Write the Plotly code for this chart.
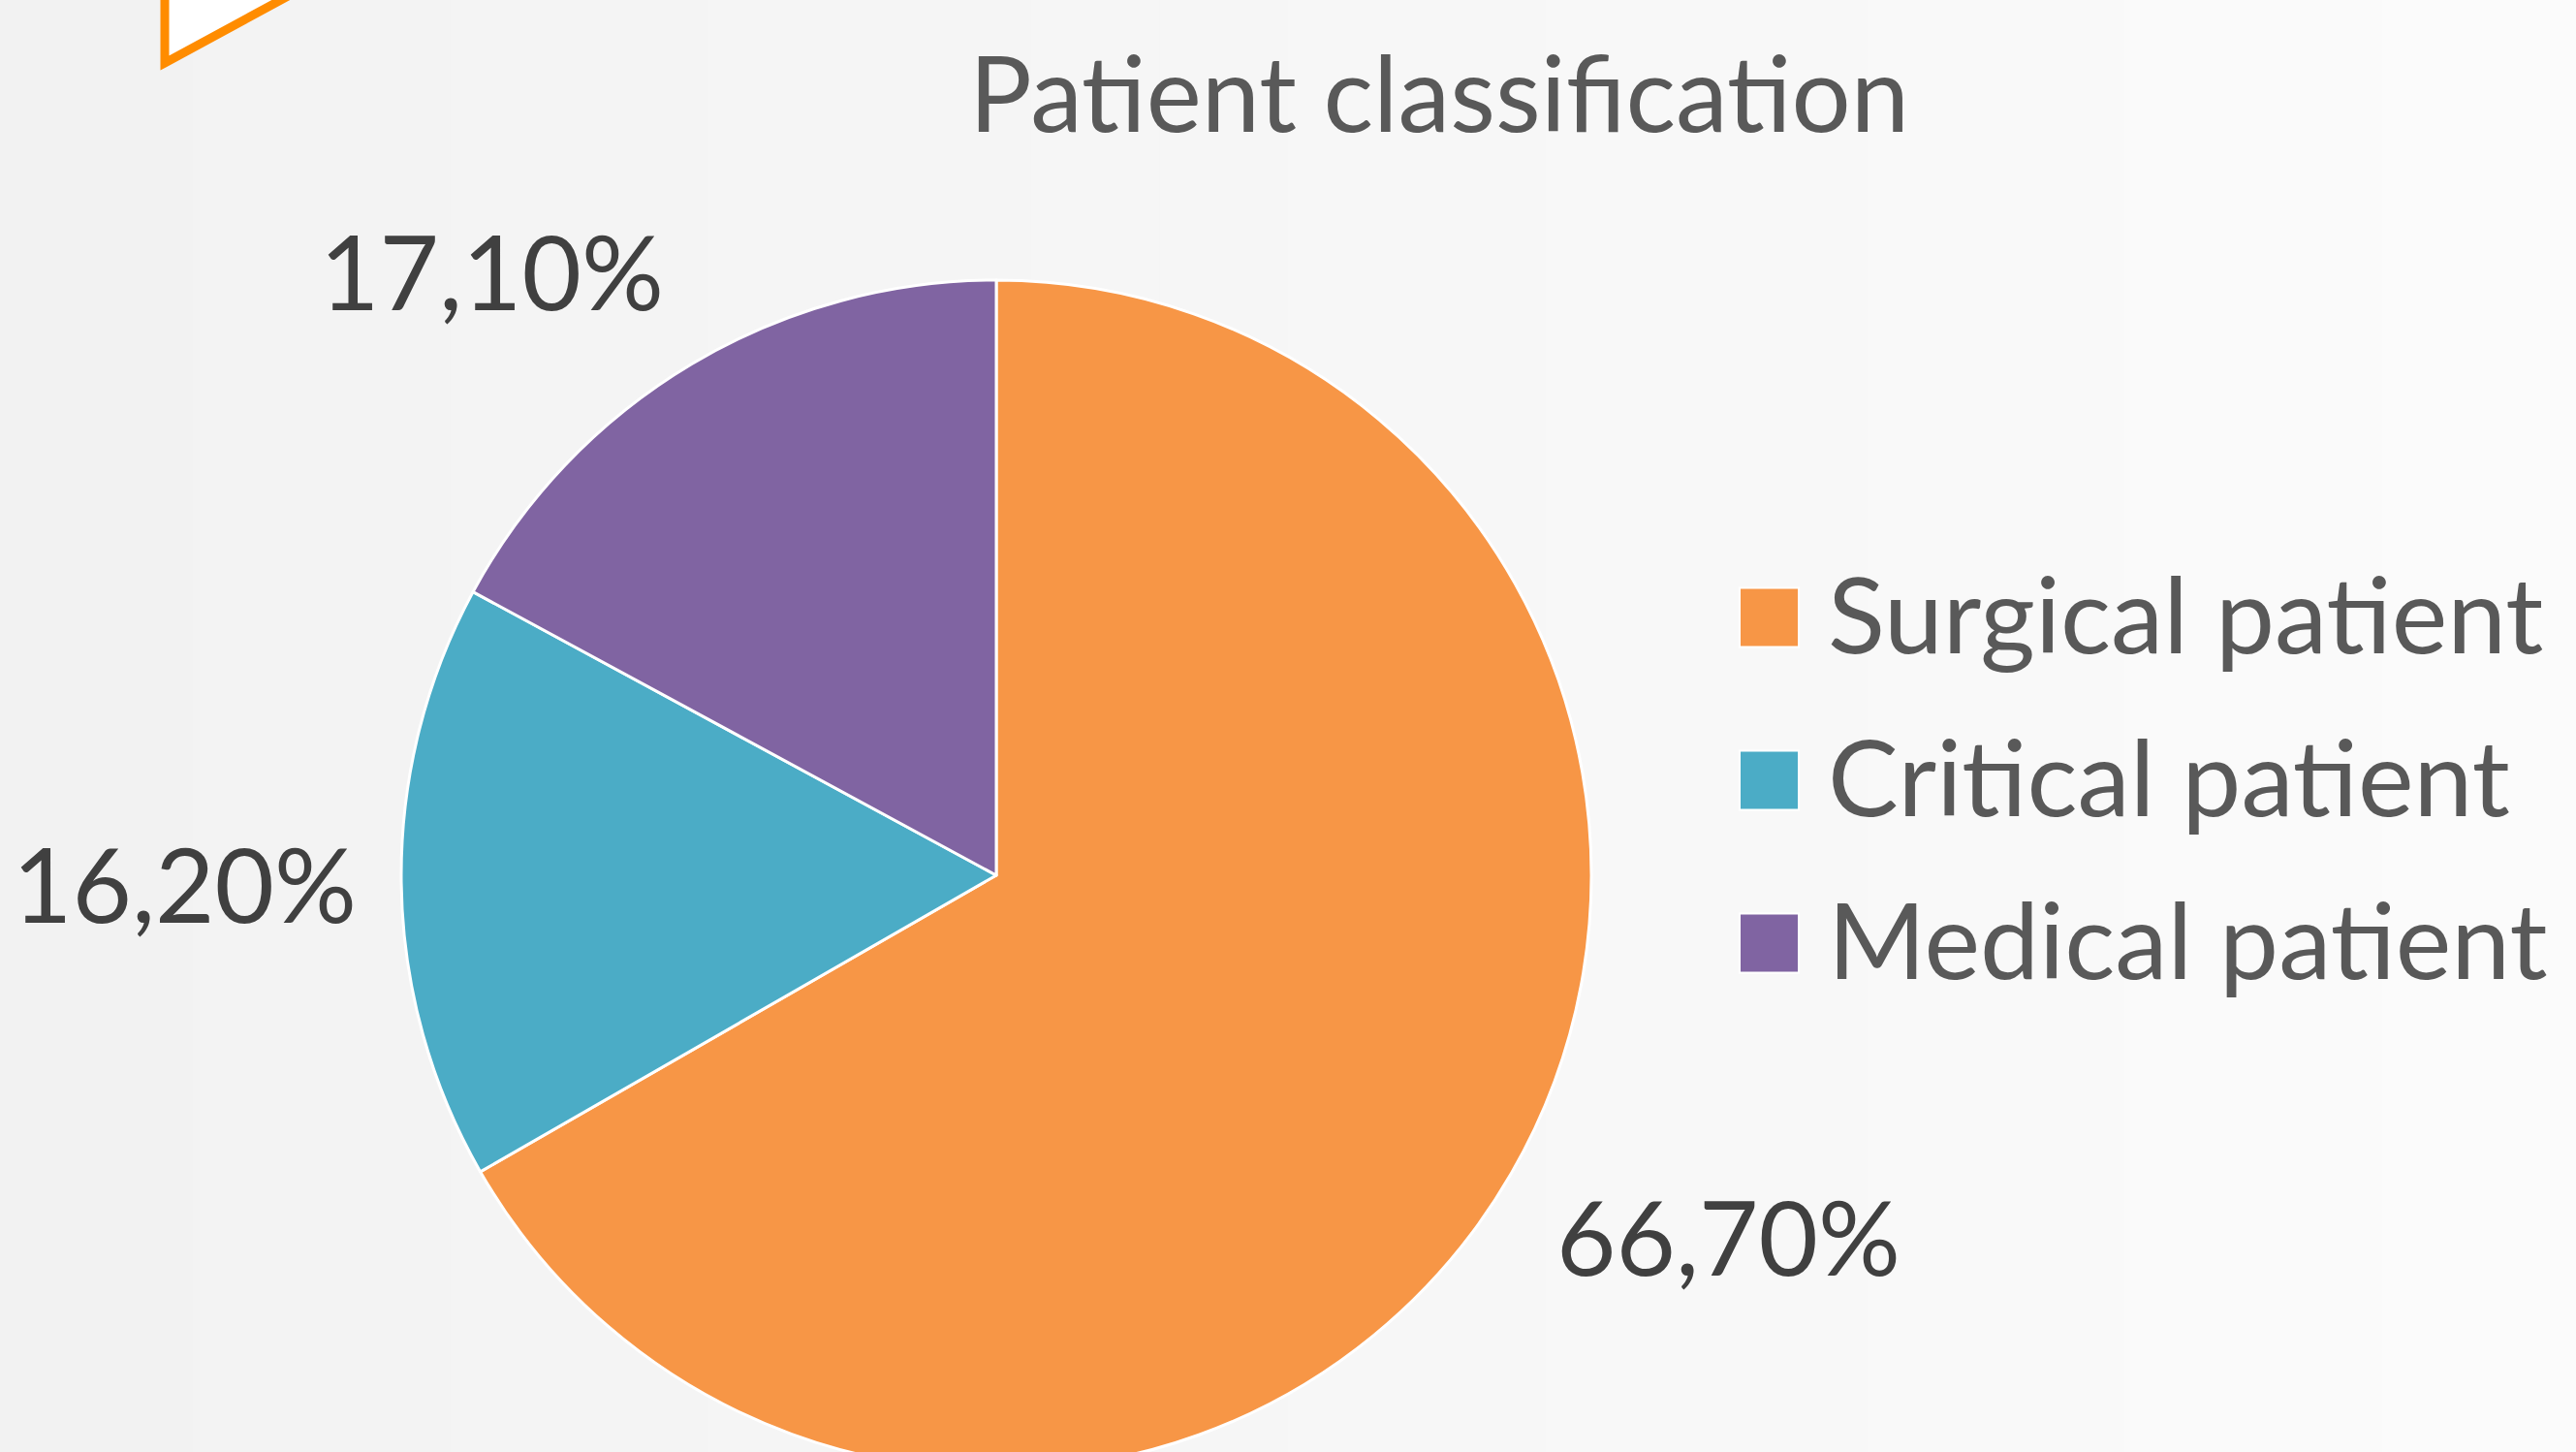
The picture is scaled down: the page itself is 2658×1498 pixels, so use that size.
import math
import plotly.graph_objects as go

# ---------------- data ----------------
categories = ["Surgical patient", "Critical patient", "Medical patient"]
values = [66.7, 16.2, 17.1]
value_labels = ["66,70%", "16,20%", "17,10%"]
colors = ["#F79646", "#4BACC6", "#8064A2"]
title_text = "Patient classification"

# ---------------- layout geometry (pixels) ----------------
W = 2658
FIG_H = 1530             # figure is a bit taller than the window; the pie runs off the bottom
FONT = "Lato"
pie_top = 289            # top of pie in px
pie_cx = 1028            # pie centre x in px
pie_r = 614
pie_cy = pie_top + pie_r


def px(xp):
    return xp / W


def py(yp):
    return 1 - yp / FIG_H


fig = go.Figure()

fig.add_trace(go.Pie(
    labels=categories,
    values=values,
    sort=False,
    direction="clockwise",
    rotation=0,
    marker=dict(colors=colors, line=dict(color="white", width=3)),
    textinfo="none",
    hoverinfo="label+percent",
    showlegend=False,
    domain=dict(x=[px(pie_cx - pie_r), px(pie_cx + pie_r)],
                y=[py(pie_top + 2 * pie_r), py(pie_top)]),
))

shapes = []
# subtle horizontal background gradient
n_strips = 40
c0, c1 = 242, 251
for i in range(n_strips):
    c = round(c0 + (c1 - c0) * i / (n_strips - 1))
    shapes.append(dict(
        type="rect", xref="paper", yref="paper", layer="below",
        x0=i / n_strips, x1=(i + 1) / n_strips + 0.001, y0=0, y1=1,
        fillcolor=f"rgb({c},{c},{c})", line=dict(width=0),
    ))

# decorative orange triangle at top-left (partly cut off)
tri = [(170, 65), (570, -152), (170, -369)]
path = "M " + " L ".join(f"{px(x):.5f},{py(y):.5f}" for x, y in tri) + " Z"
shapes.append(dict(type="path", xref="paper", yref="paper", path=path,
                   fillcolor="white", line=dict(color="#FF8C00", width=9)))

annotations = []
# title
annotations.append(dict(
    text=title_text, x=px(1485), y=py(94), xref="paper", yref="paper",
    xanchor="center", yanchor="middle", showarrow=False,
    font=dict(family=FONT, size=108, color="#595959"),
))

# data labels, placed just outside each slice along its mid-angle
total = sum(values)
cum = 0.0
gap = 52
for v, lab in zip(values, value_labels):
    mid = (cum + v / 2) / total * 2 * math.pi
    cum += v
    sx, sy = math.sin(mid), -math.cos(mid)   # screen direction (y down)
    d = pie_r + gap
    ax_, ay_ = pie_cx + d * sx, pie_cy + d * sy
    xa = "left" if sx > 0.3 else ("right" if sx < -0.3 else "center")
    ya = "top" if sy > 0.3 else ("bottom" if sy < -0.3 else "middle")
    ysh = {"top": 28, "bottom": -14, "middle": 0}[ya]
    xsh = 8 if ya == "middle" else 0
    annotations.append(dict(
        text=lab, x=px(ax_), y=py(ay_), xref="paper", yref="paper",
        xanchor=xa, yanchor=ya, showarrow=False, xshift=xsh, yshift=ysh,
        font=dict(family=FONT, size=106, color="#404040"),
    ))

# custom legend (large square swatches)
leg_x0, leg_sq, leg_y0, leg_dy = 1795, 61, 637, 168
for i, (cat, col) in enumerate(zip(categories, colors)):
    yc = leg_y0 + i * leg_dy
    shapes.append(dict(
        type="rect", xref="paper", yref="paper",
        x0=px(leg_x0), x1=px(leg_x0 + leg_sq),
        y0=py(yc + leg_sq / 2), y1=py(yc - leg_sq / 2),
        fillcolor=col, line=dict(color="white", width=2),
    ))
    annotations.append(dict(
        text=cat, x=px(leg_x0 + leg_sq + 28), y=py(yc - 6), xref="paper", yref="paper",
        xanchor="left", yanchor="middle", showarrow=False,
        font=dict(family=FONT, size=109, color="#595959"),
    ))

fig.update_layout(
    width=W, height=FIG_H, autosize=False,
    margin=dict(l=0, r=0, t=0, b=0, pad=0),
    paper_bgcolor="#f6f6f6", plot_bgcolor="#f6f6f6",
    shapes=shapes, annotations=annotations,
    showlegend=False,
    font=dict(family=FONT),
)

post = (
    "document.body.style.margin='0';"
    "document.body.style.overflow='hidden';"
    "document.documentElement.style.overflow='hidden';"
)

fig.write_html("out.html", post_script=post, config={"displayModeBar": False})
